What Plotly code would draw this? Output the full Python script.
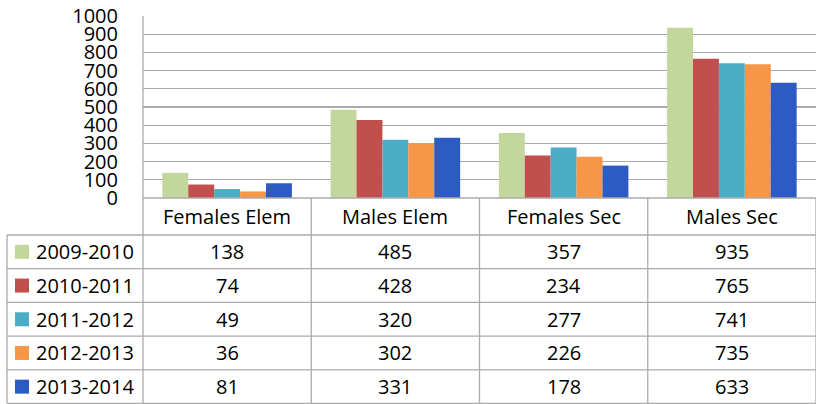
import plotly.graph_objects as go

categories = ["Females Elem", "Males Elem", "Females Sec", "Males Sec"]
series_names = ["2009-2010", "2010-2011", "2011-2012", "2012-2013", "2013-2014"]
v2009 = [138, 485, 357, 935]
v2010 = [74, 428, 234, 765]
v2011 = [49, 320, 277, 741]
v2012 = [36, 302, 226, 735]
v2013 = [81, 331, 178, 633]
series_values = [v2009, v2010, v2011, v2012, v2013]
colors = ["#C3D69B", "#C0504D", "#4BACC6", "#F79646", "#2C5BC3"]
y_ticks = list(range(0, 1001, 100))

W, H = 817, 404
ML, MR, MT, MB = 143, 1, 16, 206
PW = W - ML - MR
PH = H - MT - MB
FONT = "Open Sans"
GRID = "#ABABAB"
FS = 20

def px_y(y):
    return (H - MB - y) / PH

def px_x(x):
    return (x - ML) / PW

fig = go.Figure()
for name, vals, col in zip(series_names, series_values, colors):
    fig.add_trace(go.Bar(x=categories, y=vals, name=name, marker=dict(color=col, line=dict(width=0))))

shapes = []
annotations = []

header_top, header_bot = 198, 235
row_h = 33.7
n_rows = len(series_names)
row_lines = [header_bot + i * row_h for i in range(n_rows + 1)]

# horizontal lines of table
shapes.append(dict(type="line", xref="paper", yref="paper", x0=0, x1=1, y0=px_y(header_top), y1=px_y(header_top), line=dict(color=GRID, width=1.3)))
for yl in row_lines:
    shapes.append(dict(type="line", xref="paper", yref="paper", x0=px_x(7), x1=1, y0=px_y(yl), y1=px_y(yl), line=dict(color=GRID, width=1.3)))
# vertical lines
shapes.append(dict(type="line", xref="paper", yref="paper", x0=0, x1=0, y0=1, y1=px_y(row_lines[-1]), line=dict(color=GRID, width=1.3)))
shapes.append(dict(type="line", xref="paper", yref="paper", x0=px_x(7), x1=px_x(7), y0=px_y(header_bot), y1=px_y(row_lines[-1]), line=dict(color=GRID, width=1.3)))
for i in range(1, len(categories) + 1):
    shapes.append(dict(type="line", xref="x", yref="paper", x0=i - 0.5, x1=i - 0.5, y0=px_y(header_top), y1=px_y(row_lines[-1]), line=dict(color=GRID, width=1.3)))

# header labels
for i, c in enumerate(categories):
    annotations.append(dict(x=i, y=px_y((header_top + header_bot) / 2), xref="x", yref="paper", text=c, showarrow=False, xanchor="center", yanchor="middle", font=dict(family=FONT, size=FS, color="#000")))

# rows
for r, (name, vals, col) in enumerate(zip(series_names, series_values, colors)):
    yc = row_lines[r] + row_h / 2
    shapes.append(dict(type="rect", xref="paper", yref="paper", x0=px_x(15), x1=px_x(29), y0=px_y(yc - 7), y1=px_y(yc + 7), fillcolor=col, line=dict(width=0)))
    annotations.append(dict(x=px_x(34), y=px_y(yc), xref="paper", yref="paper", text=name, showarrow=False, xanchor="left", yanchor="middle", font=dict(family=FONT, size=FS, color="#000")))
    for i, v in enumerate(vals):
        annotations.append(dict(x=i, y=px_y(yc), xref="x", yref="paper", text=str(v), showarrow=False, xanchor="center", yanchor="middle", font=dict(family=FONT, size=FS, color="#000")))

fig.update_layout(
    width=W, height=H,
    margin=dict(l=ML, r=MR, t=MT, b=MB, pad=0, autoexpand=False),
    paper_bgcolor="white", plot_bgcolor="white",
    barmode="group", bargap=0.23, bargroupgap=0,
    showlegend=False,
    shapes=shapes, annotations=annotations,
    font=dict(family=FONT, size=FS, color="#000"),
)
fig.update_xaxes(showticklabels=False, showgrid=False, zeroline=False, showline=False, range=[-0.5, 3.5], automargin=False)
fig.update_yaxes(range=[0, 1000], tickvals=y_ticks, ticktext=[str(t) for t in y_ticks], showgrid=True, gridcolor=GRID, gridwidth=1.3,
                 zeroline=False, showline=False, ticks="", ticklabelstandoff=24, automargin=False,
                 tickfont=dict(family=FONT, size=20, color="#000"))

fig.write_html("out.html", config={"displayModeBar": False, "staticPlot": True},
               post_script="document.body.style.margin='0';document.body.style.overflow='hidden';")
